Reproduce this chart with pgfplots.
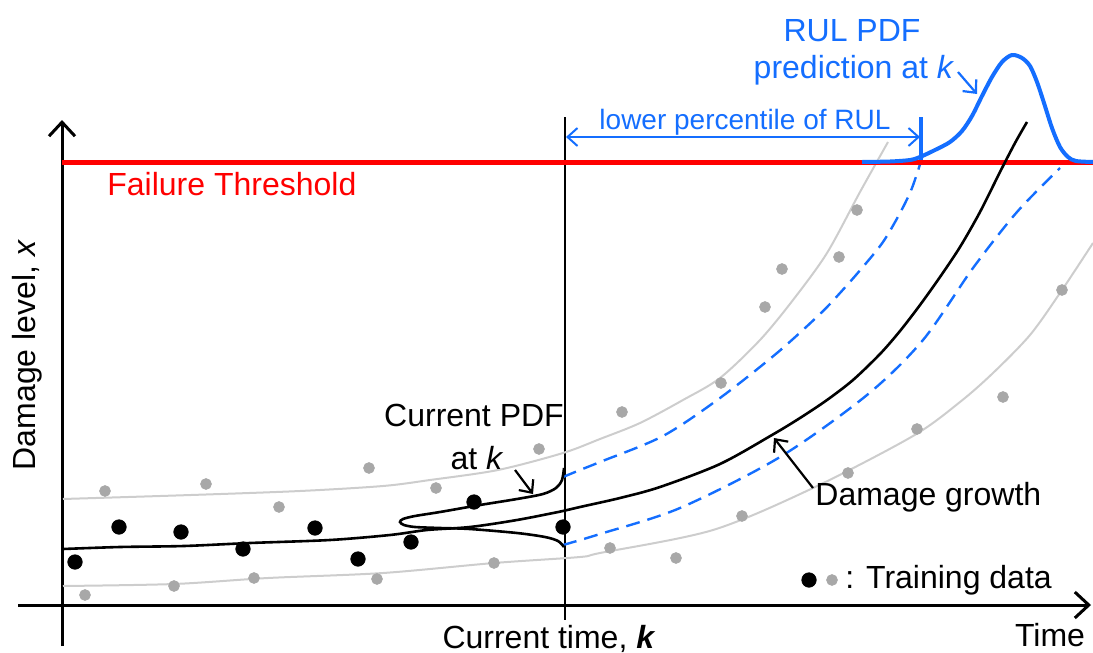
\documentclass[border=0pt]{standalone}
\usepackage{pgfplots}
\pgfplotsset{compat=1.18}
\usepackage{fontspec}
\setmainfont{Liberation Sans}
\usetikzlibrary{arrows.meta}
\definecolor{myblue}{RGB}{20,110,255}
\definecolor{lgray}{RGB}{205,205,205}
\definecolor{dgray}{RGB}{168,168,168}
\definecolor{myred}{RGB}{255,0,0}
\begin{document}
\begin{tikzpicture}
\begin{axis}[scale only axis, width=546.5pt, height=326.5pt,
  xmin=0, xmax=1093, ymin=0, ymax=653, y dir=reverse,
  hide axis, clip=false]
% axes
\addplot[black, line width=1.5pt, -{Straight Barb[length=7pt,width=13pt]}] coordinates {(62,646) (62,120)};
\addplot[black, line width=1.5pt, -{Straight Barb[length=7pt,width=13pt]}] coordinates {(18,605) (1091,605)};
% current time line
\addplot[black, line width=1.2pt] coordinates {(565,117) (565,620)};
% gray bands
\addplot[lgray, line width=1pt, smooth] coordinates {(63,499) (191,495) (300,491) (383,486) (430,480) (498,470) (563,453) (600,439) (640,423) (683,400) (720,378) (760,340) (793,300) (827,253) (860,192) (888,142)};
\addplot[lgray, line width=1pt, smooth] coordinates {(63,586) (174,584) (268,578) (383,573) (494,563) (580,557) (600,553) (713,530) (813,488) (913,436) (960,402) (993,373) (1030,335) (1060,293) (1093,243)};
% dashed prediction bounds
\addplot[myblue, line width=1.2pt, dash pattern=on 7pt off 4pt, smooth] coordinates {(563,477) (580,470) (600,462) (663,436) (720,398) (777,353) (820,314) (840,293) (862,268) (883,242) (900,213) (912,188) (922,158)};
\addplot[myblue, line width=1.2pt, dash pattern=on 7pt off 4pt, smooth] coordinates {(563,545) (600,534) (680,508) (780,457) (867,395) (923,340) (973,268) (1017,212) (1060,168)};
% failure threshold
\addplot[myred, line width=2.5pt] coordinates {(62,162) (1093,162)};
% mean damage growth
\addplot[black, line width=1.3pt, smooth] coordinates {(63,549) (120,547) (184,546) (250,543) (330,540) (390,535) (427,530) (470,527) (517,520) (563,511) (580,507) (620,498) (660,487) (720,464) (772,435) (800,418) (827,400) (853,380) (880,354) (900,331) (920,305) (940,277) (960,247) (980,212) (1000,172) (1015,143) (1027,122)};
% current PDF
\addplot[black, line width=1.3pt, smooth] coordinates {(564,468) (562,480) (556,488) (543,494) (517,499) (480,505) (440,512) (415,516) (403,519) (400,522) (404,525) (415,527) (440,528) (470,529) (517,533) (545,537) (558,541) (564,547)};
% RUL PDF
\addplot[myblue, line width=2pt, smooth] coordinates {(862,162) (890,161.5) (910,160) (920,157) (935,150) (950,142) (962,131) (972,116) (982,96) (992,77) (1002,62) (1012,55) (1022,58) (1030,66) (1037,82) (1044,103) (1052,128) (1060,147) (1068,157) (1076,161) (1093,162)};
% lower percentile arrow
\addplot[myblue, line width=1pt, {Straight Barb[length=5pt,width=9pt]}-{Straight Barb[length=5pt,width=9pt]}] coordinates {(566,137) (920,137)};
\addplot[myblue, line width=1.6pt] coordinates {(921,117) (921,160)};
% training data
\addplot[only marks, mark=*, mark size=3.6pt, black] coordinates {(75,562) (119,527) (181,532) (243,549) (315,528) (358,559) (411,542) (474,502) (563,527) (809,580)};
\addplot[only marks, mark=*, mark size=2.7pt, dgray, mark options={draw=dgray, fill=dgray}] coordinates {(105,491) (206,484) (279,507) (369,468) (436,488) (539,449) (622,412) (721,383) (765,307) (782,269) (839,257) (857,210) (85,595) (174,586) (254,578) (377,579) (494,563) (610,548) (676,558) (742,516) (848,473) (917,429) (1003,397) (1062,290) (832,580)};
% annotation arrows
\addplot[black, line width=1.1pt, -{Straight Barb[length=5pt,width=9pt]}] coordinates {(515,470) (533,494)};
\addplot[black, line width=1.1pt, -{Straight Barb[length=5pt,width=9pt]}] coordinates {(813,488) (774,438)};
\addplot[myblue, line width=1.1pt, -{Straight Barb[length=5pt,width=9pt]}] coordinates {(958,72) (977,94)};
% texts
\node[font=\fontsize{16}{19}\selectfont, text=myblue] at (axis cs:852,31) {RUL PDF};
\node[font=\fontsize{16}{19}\selectfont, text=myblue] at (axis cs:854,70) {prediction at \textit{k}};
\node[font=\fontsize{14}{17}\selectfont, text=myblue] at (axis cs:745,122) {lower percentile of RUL};
\node[font=\fontsize{16}{19}\selectfont, text=myred, anchor=west, inner sep=0pt] at (axis cs:107,184) {Failure Threshold};
\node[font=\fontsize{16}{19}\selectfont] at (axis cs:474,415) {Current PDF};
\node[font=\fontsize{16}{19}\selectfont] at (axis cs:477,458) {at \textit{k}};
\node[font=\fontsize{16}{19}\selectfont, anchor=west, inner sep=0pt] at (axis cs:815,497) {Damage growth};
\node[font=\fontsize{16}{19}\selectfont, anchor=west, inner sep=0pt] at (axis cs:845,580) {: Training data};
\node[font=\fontsize{16}{19}\selectfont] at (axis cs:1050,635) {Time};
\node[font=\fontsize{16}{19}\selectfont] at (axis cs:549,639) {Current time, \textbf{\textit{k}}};
\node[font=\fontsize{16}{19}\selectfont, rotate=90] at (axis cs:27,355) {Damage level, \textit{x}};
\coordinate (SW) at (axis cs:0,653);
\coordinate (NE) at (axis cs:1093,0);
\end{axis}
\pgfresetboundingbox
\useasboundingbox (SW) rectangle (NE);
\end{tikzpicture}
\end{document}
